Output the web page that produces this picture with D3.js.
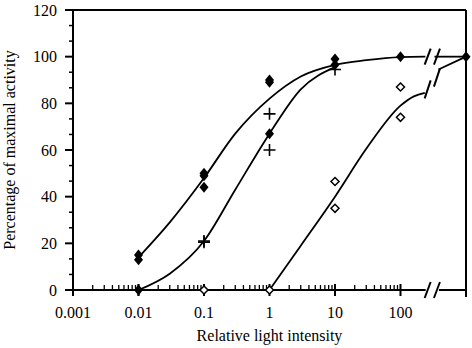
<!DOCTYPE html>
<html>
<head>
<meta charset="utf-8">
<script src="https://cdn.jsdelivr.net/npm/d3@7"></script>
<style>
  body { margin: 0; background: #fff; }
  text { font-family: "Liberation Serif", "Times New Roman", serif; fill: #000; }
</style>
</head>
<body>
<div class="canvas"></div>
<script>
// data
const xTicks = [0.001, 0.01, 0.1, 1, 10, 100];
const xTickLabels = ['0.001', '0.01', '0.1', '1', '10', '100'];
const yTicks = [0, 20, 40, 60, 80, 100, 120];

// filled diamonds
const filledX = [0.01, 0.01, 0.1, 0.1, 0.1, 1, 1, 1, 10, 10, 100, 1000, 0.01];
const filledY = [15, 13, 50, 49, 44, 90, 89, 67, 99, 96.5, 100, 100, 0];
// crosses
const crossX = [0.01, 0.1, 0.1, 1, 1, 10];
const crossY = [0, 21, 20.5, 75.5, 60, 94.5];
// open diamonds
const openX = [0.1, 1, 10, 10, 100, 100];
const openY = [0, 0, 46.5, 35, 87, 74];

// fitted curves (read as points along each line)
const curve1X = [0.01, 0.03, 0.1, 0.3, 1, 3, 10, 30, 100, 240];
const curve1Y = [14, 29, 48, 67, 82, 91.5, 96.5, 98.5, 99.8, 100];
const curve1bX = [330, 1000];
const curve1bY = [100, 100];
const curve2X = [0.01, 0.03, 0.1, 0.3, 1, 3, 10];
const curve2Y = [0, 7, 21, 43, 67, 86, 95.5];
const flatX = [0.01, 1];
const flatY = [0, 0];
const curve3X = [1, 3, 10, 30, 100, 160, 235];
const curve3Y = [0, 19, 40, 60.5, 79, 83, 84.5];
const curve3bX = [380, 1000];
const curve3bY = [94.5, 100];

const breakX = [260, 360];

// 1. dimensions
const width = 472, height = 348;
const margin = {top: 10, right: 6, bottom: 58, left: 73};
const graphWidth = width - margin.left - margin.right;
const graphHeight = height - margin.top - margin.bottom;

// 2. svg
const svg = d3.select('.canvas')
    .append('svg')
    .attr('width', width)
    .attr('height', height);

const graph = svg.append('g')
    .attr('transform', `translate(${margin.left},${margin.top})`);

const x = d3.scaleLog().domain([0.001, 1000]).range([0, graphWidth]);
const y = d3.scaleLinear().domain([0, 120]).range([graphHeight, 0]);

// axes frame
const axisW = 2;
graph.append('line').attr('x1', 0).attr('x2', graphWidth).attr('y1', 0).attr('y2', 0)
    .attr('stroke', '#000').attr('stroke-width', axisW);
graph.append('line').attr('x1', graphWidth).attr('x2', graphWidth).attr('y1', 0).attr('y2', graphHeight + 7)
    .attr('stroke', '#000').attr('stroke-width', axisW);
graph.append('line').attr('x1', 0).attr('x2', 0).attr('y1', 0).attr('y2', graphHeight + 6)
    .attr('stroke', '#000').attr('stroke-width', axisW);

// x axis line with break
const bx1 = x(breakX[0]), bx2 = x(breakX[1]);
graph.append('line').attr('x1', 0).attr('x2', bx1 - 2).attr('y1', graphHeight).attr('y2', graphHeight)
    .attr('stroke', '#000').attr('stroke-width', axisW);
graph.append('line').attr('x1', bx2 + 2).attr('x2', graphWidth).attr('y1', graphHeight).attr('y2', graphHeight)
    .attr('stroke', '#000').attr('stroke-width', axisW);

// y axis ticks
const yMinor = d3.range(0, 120, 20 / 3).filter(v => Math.abs(v % 20) > 0.01 && Math.abs(v % 20 - 20) > 0.01);
graph.selectAll('.ymaj').data(yTicks).join('line')
    .attr('x1', -8).attr('x2', 0)
    .attr('y1', d => y(d)).attr('y2', d => y(d))
    .attr('stroke', '#000').attr('stroke-width', 2);
graph.selectAll('.ymin').data(yMinor).join('line')
    .attr('x1', -4).attr('x2', 0)
    .attr('y1', d => y(d)).attr('y2', d => y(d))
    .attr('stroke', '#000').attr('stroke-width', 1.5);
graph.selectAll('.ylab').data(yTicks).join('text')
    .attr('x', -16).attr('y', d => y(d) + 5.5)
    .attr('text-anchor', 'end').attr('font-size', 16)
    .text(d => d);

// x axis ticks
const xMinor = [];
[0.001, 0.01, 0.1, 1, 10].forEach(dec => { for (let k = 2; k <= 9; k++) xMinor.push(dec * k); });
graph.selectAll('.xmin').data(xMinor).join('line')
    .attr('x1', d => x(d)).attr('x2', d => x(d))
    .attr('y1', graphHeight - 5).attr('y2', graphHeight)
    .attr('stroke', '#000').attr('stroke-width', 1.3);
graph.selectAll('.xmaj').data(xTicks).join('line')
    .attr('x1', d => x(d)).attr('x2', d => x(d))
    .attr('y1', graphHeight - 6).attr('y2', graphHeight + 6)
    .attr('stroke', '#000').attr('stroke-width', 2);
graph.selectAll('.xlab').data(xTicks).join('text')
    .attr('x', d => x(d)).attr('y', graphHeight + 28)
    .attr('text-anchor', 'middle').attr('font-size', 16)
    .text((d, i) => xTickLabels[i]);

// axis titles
svg.append('text')
    .attr('x', margin.left + x(1)).attr('y', 341)
    .attr('text-anchor', 'middle').attr('font-size', 16)
    .text('Relative light intensity');
svg.append('text')
    .attr('transform', `translate(15,150) rotate(-90)`)
    .attr('text-anchor', 'middle').attr('font-size', 16)
    .text('Percentage of maximal activity');

// curves
const toPts = (xs, ys) => xs.map((v, i) => [v, ys[i]]);
const smooth = d3.line().x(d => x(d[0])).y(d => y(d[1])).curve(d3.curveMonotoneX);
const straight = d3.line().x(d => x(d[0])).y(d => y(d[1]));

[[curve1X, curve1Y, smooth], [curve1bX, curve1bY, straight], [curve2X, curve2Y, smooth],
 [flatX, flatY, straight], [curve3X, curve3Y, smooth], [curve3bX, curve3bY, straight]]
    .forEach(([xs, ys, gen]) => {
        graph.append('path')
            .attr('d', gen(toPts(xs, ys)))
            .attr('fill', 'none').attr('stroke', '#000').attr('stroke-width', 1.8);
    });

// break marks (x axis, top curve, lower curve)
const slash = (cx, cy, h) => {
    graph.append('line')
        .attr('x1', cx - 3).attr('y1', cy + h / 2)
        .attr('x2', cx + 3).attr('y2', cy - h / 2)
        .attr('stroke', '#000').attr('stroke-width', 2);
};
breakX.forEach(b => slash(x(b), graphHeight, 16));
breakX.forEach(b => slash(x(b), y(100), 16));
slash(x(breakX[0]), y(86), 18);
slash(x(breakX[1]), y(91), 18);

// markers
graph.selectAll('.open').data(toPts(openX, openY)).join('path')
    .attr('d', 'M0,-4L4,0L0,4L-4,0Z')
    .attr('transform', d => `translate(${x(d[0])},${y(d[1])})`)
    .attr('fill', '#fff').attr('stroke', '#000').attr('stroke-width', 1.5);

graph.selectAll('.filled').data(toPts(filledX, filledY)).join('path')
    .attr('d', 'M0,-5.5L4.5,0L0,5.5L-4.5,0Z')
    .attr('transform', d => `translate(${x(d[0])},${y(d[1])})`)
    .attr('fill', '#000');

graph.selectAll('.cross').data(toPts(crossX, crossY)).join('path')
    .attr('d', 'M-6,0H6M0,-6V6')
    .attr('transform', d => `translate(${x(d[0])},${y(d[1])})`)
    .attr('stroke', '#000').attr('stroke-width', 1.6).attr('fill', 'none');
</script>
</body>
</html>
